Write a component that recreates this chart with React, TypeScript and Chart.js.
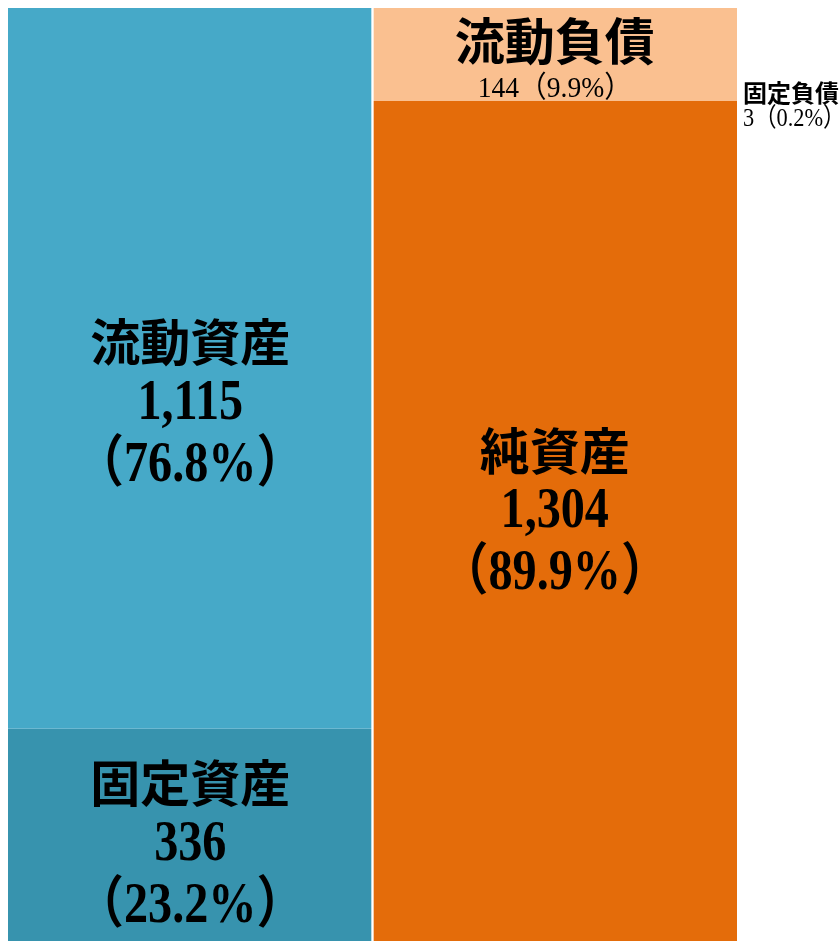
import React, { useEffect, useRef } from "react";
import { Chart, registerables } from "chart.js";

Chart.register(...registerables);

// ---- data ----
const categories = ["資産", "負債・純資産"];
const segmentNames = ["固定資産", "流動資産", "純資産", "固定負債", "流動負債"];
const segmentValues = [336, 1115, 1304, 3, 144];
const segmentColumn = [0, 0, 1, 1, 1];
const segmentPercents = ["23.2", "76.8", "89.9", "0.2", "9.9"];
const segmentColors = ["#3793AE", "#46A9C8", "#E46C0A", "#E46C0A", "#FAC090"];
const labelKinds = ["big", "big", "big", "outside", "top"];
const totalValue = 1451;

// ---- label layout (offsets relative to the bar segment centre) ----
const bigOffsets = [8, 36, -11.5, 0, 0];
const BIG_LINE = 62;
const NAME_FONT = "bold 50px 'Noto Sans CJK JP'";
const NUM_FONT = "bold 56px 'Liberation Serif', 'Noto Sans CJK JP'";
const NUM_SCALE = 0.86;

const fmt = (v: number) => v.toLocaleString("en-US");

function drawScaled(
  ctx: CanvasRenderingContext2D,
  text: string,
  x: number,
  y: number,
  font: string,
  sx: number,
  align: CanvasTextAlign
) {
  ctx.save();
  ctx.font = font;
  ctx.textAlign = align;
  ctx.translate(x, y);
  ctx.scale(sx, 1);
  ctx.fillText(text, 0, 0);
  ctx.restore();
}

const labelPlugin = {
  id: "segLabels",
  afterDatasetsDraw(chart: any) {
    const ctx = chart.ctx as CanvasRenderingContext2D;
    ctx.save();
    ctx.fillStyle = "#000";
    ctx.textBaseline = "middle";
    chart.data.datasets.forEach((ds: any, i: number) => {
      const meta = chart.getDatasetMeta(i);
      const col = segmentColumn[i];
      const el = meta.data[col];
      if (!el) return;
      const p = el.getProps(["x", "y", "base", "width"], true);
      const cx = p.x;
      const cy = (p.y + p.base) / 2;
      const kind = labelKinds[i];
      const name = segmentNames[i];
      const num = fmt(segmentValues[i]);
      const pct = "（" + segmentPercents[i] + "%）";
      if (kind === "big") {
        const mid = cy + bigOffsets[i];
        ctx.textAlign = "center";
        ctx.font = NAME_FONT;
        ctx.fillText(name, cx, mid - BIG_LINE);
        drawScaled(ctx, num, cx, mid, NUM_FONT, NUM_SCALE, "center");
        drawScaled(ctx, pct, cx, mid + BIG_LINE, NUM_FONT, NUM_SCALE, "center");
      } else if (kind === "top") {
        ctx.textAlign = "center";
        ctx.font = NAME_FONT;
        ctx.fillText(name, cx, cy - 14);
        drawScaled(ctx, num + pct, cx, cy + 35, "30px 'Liberation Serif', 'Noto Sans CJK JP'", 0.92, "center");
      } else {
        const lx = p.x + p.width / 2 + 6;
        ctx.textAlign = "left";
        ctx.font = "bold 24px 'Noto Sans CJK JP'";
        ctx.fillText(name, lx, cy - 9);
        drawScaled(ctx, num + pct, lx, cy + 17, "26px 'Liberation Serif', 'Noto Sans CJK JP'", 0.86, "left");
      }
    });
    ctx.restore();
  },
};

export default function App() {
  const ref = useRef<HTMLCanvasElement | null>(null);

  useEffect(() => {
    if (!ref.current) return;
    const datasets = segmentNames.map((name, i) => {
      const data = categories.map((_, c) => (c === segmentColumn[i] ? segmentValues[i] : null));
      const left = segmentColumn[i] === 0;
      return {
        label: name,
        data,
        backgroundColor: segmentColors[i],
        borderColor: "#FFFFFF",
        borderWidth: left
          ? { top: 0, bottom: 0, left: 0, right: 1.5 }
          : { top: 0, bottom: 0, left: 1.5, right: 0 },
        borderSkipped: false,
        barPercentage: 1,
        categoryPercentage: 1,
      };
    });
    const chart = new Chart(ref.current, {
      type: "bar",
      data: { labels: categories, datasets },
      options: {
        responsive: false,
        animation: false,
        layout: { padding: { left: 0, right: 103, top: 0, bottom: 0 } },
        plugins: {
          legend: { display: false },
          tooltip: { enabled: false },
          title: { display: false },
        },
        scales: {
          x: { stacked: true, display: false, offset: true, grid: { display: false } },
          y: { stacked: true, display: false, min: 0, max: totalValue, grid: { display: false } },
        },
      },
      plugins: [labelPlugin],
    } as any);
    return () => chart.destroy();
  }, []);

  return (
    <div style={{ position: "fixed", left: 8, top: 8, width: 832, height: 938, background: "#fff" }}>
      <canvas ref={ref} width={832} height={938} style={{ display: "block", width: 832, height: 938 }} />
    </div>
  );
}
